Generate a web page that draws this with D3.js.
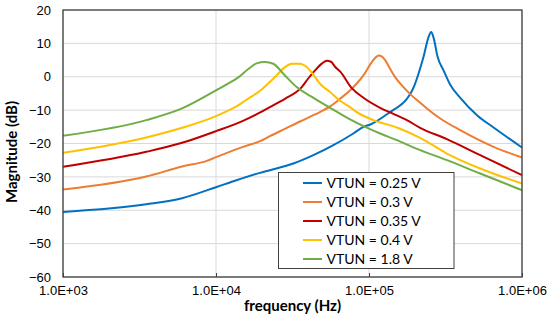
<!DOCTYPE html>
<html>
<head>
<meta charset="utf-8">
<script src="https://cdn.jsdelivr.net/npm/d3@7"></script>
<style>
  body { margin: 0; background: #fff; }
  svg { display: block; font-family: Lato, "Open Sans", sans-serif; }
</style>
</head>
<body>
<div id="chart"></div>
<script>
// Series: [frequency (Hz), magnitude (dB)]
const vtun025 = [[1000,-40.5],[3500,-38.2],[6000,-36.4],[10000,-33.1],[13600,-31],[19400,-28.8],[22500,-28],[32000,-26],[43300,-23.5],[58500,-20.5],[79000,-17],[92000,-15],[102000,-14.3],[137000,-10.6],[176800,-6.6],[185800,-5.2],[197300,-2.8],[210600,0.9],[227000,5.9],[245000,11.9],[255000,13.4],[265000,11.5],[281000,5.9],[307000,1.9],[339500,-2.4],[395000,-6.3],[508000,-11.5],[652000,-15.2],[1000000,-21.2]];
const vtun03 = [[1000,-33.8],[3500,-29.9],[6000,-26.9],[8700,-25.2],[10000,-24.1],[15000,-21],[19400,-19.3],[22500,-17.8],[28240,-15.6],[35400,-13.4],[44390,-11.3],[55660,-8.9],[64700,-6.6],[77160,-3.6],[91920,0.4],[104300,4.4],[112500,6.1],[116000,6.4],[121000,6.1],[127500,5.0],[137400,2.4],[148200,-0.1],[168000,-3.1],[185800,-5.2],[216000,-7.8],[238900,-9.5],[292100,-12.5],[394700,-16],[651900,-21],[1000000,-24.2]];
const vtun035 = [[1000,-27],[3500,-22.5],[6000,-19.8],[10000,-16.3],[15000,-13.2],[18890,-11],[24930,-8],[28240,-6.6],[36330,-3.1],[39940,-0.6],[44390,1.9],[49330,4.0],[52950,4.8],[56490,4.5],[60000,3.0],[64700,1.6],[77160,-3.4],[91920,-6.3],[118200,-9.3],[144400,-11.1],[176800,-13],[216000,-15.3],[323000,-18.7],[533000,-23.5],[1000000,-29.5]];
const vtun04 = [[1000,-22.8],[3500,-18.2],[6000,-15.3],[10000,-11.8],[11435,-10.6],[13600,-8.9],[15460,-7.2],[19880,-3.8],[24290,-0.1],[28240,2.9],[31240,3.9],[35410,3.9],[39160,2.9],[44390,-0.1],[47860,-2.1],[55660,-4.6],[64700,-7.2],[75200,-9.1],[83200,-10.6],[106900,-13],[152000,-15.2],[216000,-18.3],[323000,-23],[533000,-27.5],[1000000,-32]];
const vtun18 = [[1000,-17.7],[3500,-13],[6000,-9.5],[10000,-4.1],[11435,-2.6],[13980,-0.2],[16250,2.3],[18440,4.0],[20890,4.4],[23680,3.9],[27540,0.9],[33690,-3.1],[44390,-6.6],[55660,-9.3],[75200,-12.8],[91920,-14.8],[118200,-17],[152000,-19],[216000,-22],[323000,-25],[533000,-29],[1000000,-34]];

const seriesNames = ["VTUN = 0.25 V", "VTUN = 0.3 V", "VTUN = 0.35 V", "VTUN = 0.4 V", "VTUN = 1.8 V"];
const seriesColors = ["#0070C0", "#ED7D31", "#C00000", "#FFC000", "#70AD47"];
const xTicks = [1e3, 1e4, 1e5, 1e6];
const yTicks = [-60, -50, -40, -30, -20, -10, 0, 10, 20];

const series = [vtun025, vtun03, vtun035, vtun04, vtun18];

// Layout
const W = 550, H = 327;
const margin = { top: 10, right: 28, bottom: 50, left: 63 };
const width = W - margin.left - margin.right;
const height = H - margin.top - margin.bottom;

const svg = d3.select("#chart").append("svg")
    .attr("width", W)
    .attr("height", H);

const g = svg.append("g")
    .attr("transform", `translate(${margin.left},${margin.top})`);

// Scales
const x = d3.scaleLog().domain([1e3, 1e6]).range([0, width]);
const y = d3.scaleLinear().domain([-60, 20]).range([height, 0]);

// Gridlines
g.append("g")
    .selectAll("line")
    .data(yTicks)
    .enter().append("line")
    .attr("x1", 0).attr("x2", width)
    .attr("y1", d => y(d)).attr("y2", d => y(d))
    .attr("stroke", "#d9d9d9").attr("stroke-width", 1);

g.append("g")
    .selectAll("line")
    .data(xTicks)
    .enter().append("line")
    .attr("x1", d => x(d)).attr("x2", d => x(d))
    .attr("y1", 0).attr("y2", height)
    .attr("stroke", "#d9d9d9").attr("stroke-width", 1);

// Lines
const line = d3.line()
    .x(d => x(d[0]))
    .y(d => y(d[1]))
    .curve(d3.curveMonotoneX);

g.selectAll(".series")
    .data(series)
    .enter().append("path")
    .attr("class", "series")
    .attr("d", line)
    .attr("fill", "none")
    .attr("stroke", (d, i) => seriesColors[i])
    .attr("stroke-width", 2);

// Frame
g.append("rect")
    .attr("width", width).attr("height", height)
    .attr("fill", "none")
    .attr("stroke", "#404040").attr("stroke-width", 1.3);

// Axes
const xAxis = g.append("g")
    .attr("transform", `translate(0,${height})`)
    .call(d3.axisBottom(x)
        .tickValues(xTicks)
        .tickFormat(d => "1.0E+" + String(Math.round(Math.log10(d))).padStart(2, "0"))
        .tickSizeInner(-4).tickSizeOuter(0).tickPadding(9));
xAxis.select(".domain").remove();
xAxis.selectAll("line").attr("stroke", "#404040");
xAxis.selectAll("text").attr("font-size", 13).attr("fill", "#000");

const yAxis = g.append("g")
    .call(d3.axisLeft(y).tickValues(yTicks).tickSize(0).tickPadding(12));
yAxis.select(".domain").remove();
yAxis.selectAll("text").attr("font-size", 13).attr("fill", "#000");

// Axis titles
svg.append("text")
    .attr("x", margin.left + width / 2)
    .attr("y", 311)
    .attr("text-anchor", "middle")
    .attr("font-size", 15).attr("font-weight", "bold")
    .text("frequency (Hz)");

svg.append("text")
    .attr("transform", "translate(17,152) rotate(-90)")
    .attr("text-anchor", "middle")
    .attr("font-size", 15).attr("font-weight", "bold")
    .text("Magnitude (dB)");

// Legend
const legend = svg.append("g").attr("transform", "translate(278.5,172.5)");
legend.append("rect")
    .attr("width", 175.5).attr("height", 96)
    .attr("fill", "#fff")
    .attr("stroke", "#404040").attr("stroke-width", 1);

const items = legend.selectAll(".item")
    .data(seriesNames)
    .enter().append("g")
    .attr("class", "item")
    .attr("transform", (d, i) => `translate(0,${10.5 + i * 19})`);

items.append("line")
    .attr("x1", 24.5).attr("x2", 43.5)
    .attr("stroke", (d, i) => seriesColors[i])
    .attr("stroke-width", 2);

items.append("text")
    .attr("x", 48)
    .attr("dy", "0.35em")
    .attr("font-size", 14)
    .attr("fill", "#000")
    .text(d => d);
</script>
</body>
</html>
